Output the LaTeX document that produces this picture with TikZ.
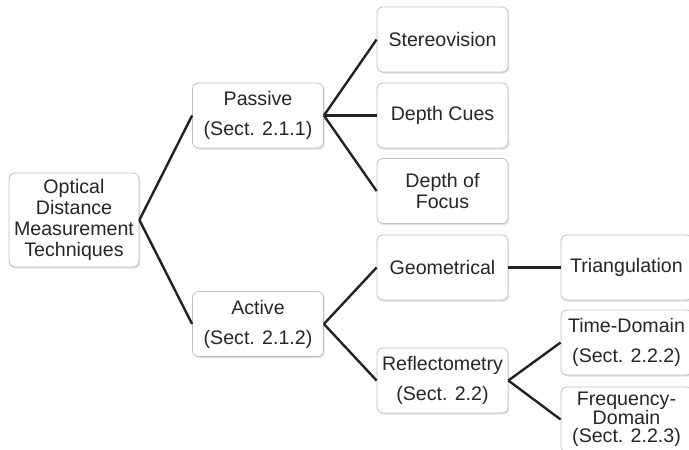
\documentclass[tikz,border=0pt]{standalone}
\usepackage{fontspec}
\setmainfont{Liberation Sans}
\usetikzlibrary{positioning, shadows}
\definecolor{boxgray}{RGB}{192, 192, 192}
\definecolor{linegray}{RGB}{34, 34, 34}

\begin{document}
\begin{tikzpicture}[x=0.5pt, y=-0.5pt,
  techbox/.style={draw=boxgray, fill=white, rounded corners=3pt, minimum width=65.5pt, minimum height=32.5pt,
    align=center, inner sep=1pt, text=black!85, font=\fontsize{9.8}{10.6}\selectfont,
    drop shadow={shadow xshift=0.6pt, shadow yshift=-0.8pt, opacity=0.25}},
  link/.style={draw=linegray, line width=1.2pt}]
  \clip (0,0) rectangle (689,449);

  % level 0
  \node[techbox, minimum width=65pt, minimum height=47pt] (optical) at (74,220) {Optical\\Distance\\Measurement\\Techniques};

  % level 1
  \node[techbox] (passive) at (258,115.5) {Passive\\[4.4pt](Sect. 2.1.1)};
  \node[techbox] (active) at (258,324) {Active\\[4.4pt](Sect. 2.1.2)};

  % level 2
  \node[techbox] (stereo) at (442.5,39.5) {Stereovision};
  \node[techbox] (cues) at (442.5,115.5) {Depth Cues};
  \node[techbox] (focus) at (442.5,191) {Depth of\\Focus};
  \node[techbox] (geom) at (442.5,267.5) {Geometrical};
  \node[techbox] (reflecto) at (442.5,380.5) {Reflectometry\\[4.4pt](Sect. 2.2)};

  % level 3
  \node[techbox] (triang) at (626.5,267.5) {Triangulation};
  \node[techbox] (timedom) at (626.5,342.5) {Time-Domain\\[4.4pt](Sect. 2.2.2)};
  \node[techbox, font=\fontsize{9.8}{9.2}\selectfont] (freqdom) at (626.5,419.5) {Frequency-\\Domain\\(Sect. 2.2.3)};

  % connectors
  \draw[link] (optical.east) -- (passive.west);
  \draw[link] (optical.east) -- (active.west);
  \draw[link] (passive.east) -- (stereo.west);
  \draw[link] (passive.east) -- (cues.west);
  \draw[link] (passive.east) -- (focus.west);
  \draw[link] (active.east) -- (geom.west);
  \draw[link] (active.east) -- (reflecto.west);
  \draw[link] (geom.east) -- (triang.west);
  \draw[link] (reflecto.east) -- (timedom.west);
  \draw[link] (reflecto.east) -- (freqdom.west);
\end{tikzpicture}
\end{document}
